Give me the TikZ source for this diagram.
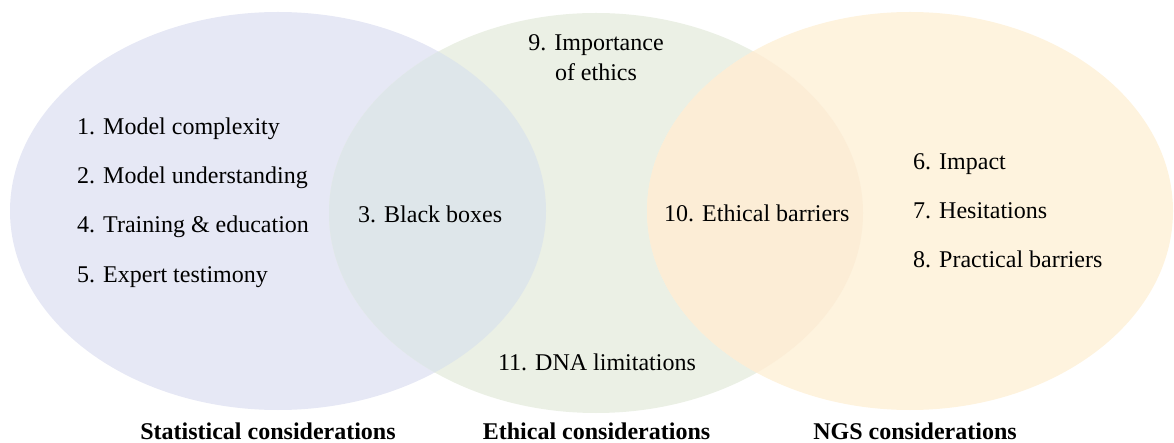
\documentclass[tikz,border=0pt]{standalone}
\usepackage{fontspec}
\setmainfont{LiberationSerif}[Extension=.ttf, UprightFont=*-Regular, BoldFont=*-Bold, ItalicFont=*-Italic, BoldItalicFont=*-BoldItalic]
\definecolor{cblue}{HTML}{E6E8F5}
\definecolor{cgreen}{HTML}{EBF0E5}
\definecolor{corange}{HTML}{FEF3DE}
\definecolor{cbluegreen}{HTML}{DEE6EA}
\definecolor{cgreenorange}{HTML}{FCEDD6}
\begin{document}
\begin{tikzpicture}[x=1pt,y=-1pt,
  item/.style={inner sep=0pt, font=\rmfamily\fontsize{24}{30}\selectfont},
  settitle/.style={inner sep=0pt, font=\rmfamily\fontsize{24}{30}\selectfont\bfseries}]
\useasboundingbox (0,0) rectangle (1174,443);
% sets
\fill[cblue] (278,211) ellipse [x radius=268, y radius=199];
\fill[cgreen] (596,213) ellipse [x radius=267, y radius=200];
\begin{scope}
  \clip (278,211) ellipse [x radius=268, y radius=199];
  \fill[cbluegreen] (596,213) ellipse [x radius=267, y radius=200];
\end{scope}
\fill[corange] (910,211) ellipse [x radius=263, y radius=199];
\begin{scope}
  \clip (596,213) ellipse [x radius=267, y radius=200];
  \fill[cgreenorange] (910,211) ellipse [x radius=263, y radius=199];
\end{scope}
% statistical
\node[item, anchor=base west] (t1) at (77,135) {1. Model complexity};
\node[item, anchor=base west] (t2) at (77,184) {2. Model understanding};
\node[item, anchor=base west] (t4) at (77,233) {4. Training \& education};
\node[item, anchor=base west] (t5) at (77,283) {5. Expert testimony};
\node[item, anchor=base west] (t3) at (358,223) {3. Black boxes};
% ethical
\node[item, anchor=base, align=center] (t9) at (596,81) {9. Importance\\of ethics};
\node[item, anchor=base] (t11) at (597,370) {11. DNA limitations};
\node[item, anchor=base west] (t10) at (664,222) {10. Ethical barriers};
% NGS
\node[item, anchor=base west] (t6) at (913,170) {6. Impact};
\node[item, anchor=base west] (t7) at (913,219) {7. Hesitations};
\node[item, anchor=base west] (t8) at (913,268) {8. Practical barriers};
% titles
\node[settitle, anchor=base] (s1) at (268,439) {Statistical considerations};
\node[settitle, anchor=base] (s2) at (596.5,439) {Ethical considerations};
\node[settitle, anchor=base] (s3) at (915,439) {NGS considerations};
\end{tikzpicture}
\end{document}
